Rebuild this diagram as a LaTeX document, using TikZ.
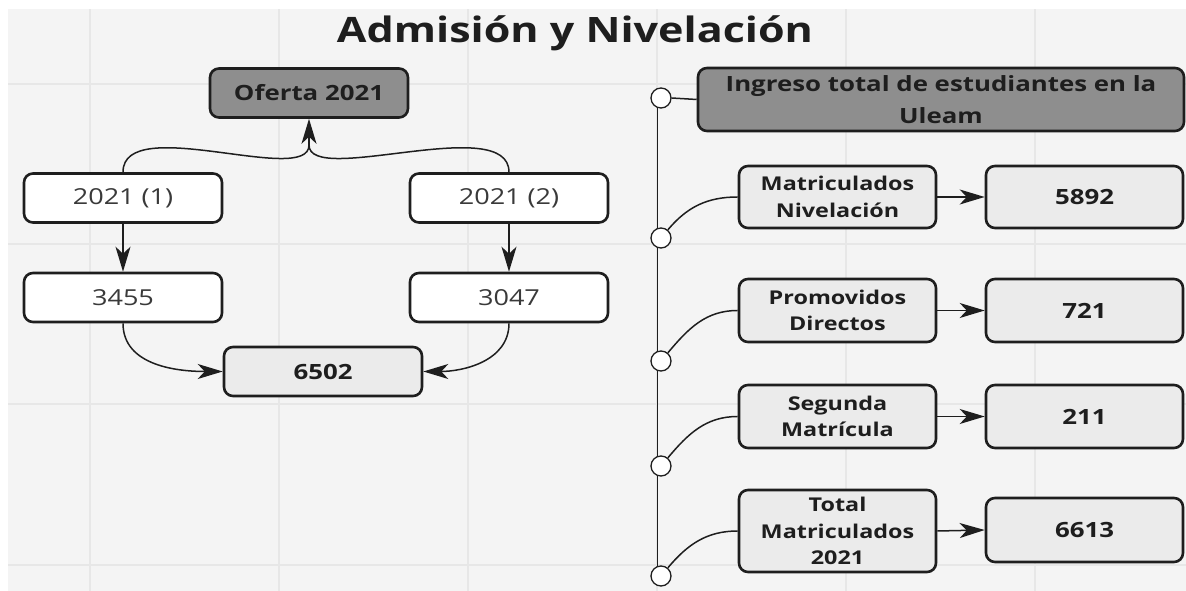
\documentclass[tikz,border=0pt]{standalone}
\usepackage{fontspec}
\setmainfont{Open Sans}[FakeStretch=1.23]
\usetikzlibrary{arrows.meta}
\definecolor{paper}{HTML}{F4F4F4}
\definecolor{gridline}{HTML}{E7E7E7}
\definecolor{darkfill}{HTML}{8E8E8E}
\definecolor{lightfill}{HTML}{EBEBEB}
\definecolor{edge}{HTML}{1E1E1E}
\definecolor{ink}{HTML}{3A3A3A}

\begin{document}
\begin{tikzpicture}[x = 1pt, y = 1pt]
\tikzstyle{Box}=[draw = edge, line width = 2.6pt, rounded corners = 9pt, inner sep = 0pt,
align = center, minimum width = 198pt, text = edge]
\tikzstyle{PlainBox}=[Box, fill = white, minimum height = 49pt, text = ink,
font = \fontsize{22}{26}\selectfont]
\tikzstyle{HeadBox}=[Box, fill = darkfill, font = \bfseries\fontsize{21}{31.5}\selectfont]
\tikzstyle{SumBox}=[Box, fill = lightfill, font = \bfseries\fontsize{21}{26}\selectfont]
\tikzstyle{ItemBox}=[Box, fill = lightfill, minimum width = 197pt,
font = \bfseries\fontsize{19}{26.5}\selectfont]
\tikzstyle{Dot}=[circle, draw = edge, fill = white, line width = 1.3pt, minimum size = 20pt,
inner sep = 0pt]
\tikzstyle{Link}=[line width = 1.5pt, draw = edge]
\tikzstyle{Arrow}=[Link, -{Stealth[length = 25pt, width = 15pt, inset = 7pt]}]
\useasboundingbox (0,0) rectangle (1186,591);
\fill[white] (0,0) rectangle (1186,591);
\fill[paper] (8,0) rectangle (1186,582);
\foreach \gx in {90,279,468,657,846,1035}
\draw[gridline, line width = 1.5pt] (\gx,0) -- (\gx,582);
\foreach \gy in {26,187,347,507}
\draw[gridline, line width = 1.5pt] (8,\gy) -- (1186,\gy);
\node[anchor = base, text = edge, font = \bfseries\fontsize{35}{40}\selectfont] (title) at (575,548) {Admisión y Nivelación};
\node[HeadBox, minimum height = 49pt] (oferta) at (309,498) {Oferta 2021};
\node[PlainBox] (y1) at (123,393) {2021 (1)};
\node[PlainBox] (y2) at (509,393) {2021 (2)};
\node[PlainBox] (n3455) at (123,293.5) {3455};
\node[PlainBox] (n3047) at (509,293.5) {3047};
\node[SumBox, minimum height = 49pt] (n6502) at (323,219.5) {6502};
\coordinate (merge) at (309,446);
\draw[Link] (y1.north) .. controls +(0,60) and +(0,-42) .. (merge);
\draw[Link] (y2.north) .. controls +(0,60) and +(0,-42) .. (merge);
\draw[Arrow] (merge) -- (oferta.south);
\draw[Arrow] (y1) -- (n3455);
\draw[Arrow] (y2) -- (n3047);
\draw[Arrow] (n3455.south) to[out = -90, in = 180] (n6502.west);
\draw[Arrow] (n3047.south) to[out = -90, in = 0] (n6502.east);
\node[HeadBox, minimum width = 486pt, minimum height = 63pt] (ingreso) at (941,491.5) {Ingreso total de estudiantes en la\\Uleam};
\node[ItemBox, minimum height = 62pt] (matri) at (837.5,394) {Matriculados\\Nivelación};
\node[SumBox, minimum width = 197pt, minimum height = 62pt] (v5892) at (1084.5,394) {5892};
\node[ItemBox, minimum height = 63pt] (promo) at (837.5,280.5) {Promovidos\\Directos};
\node[SumBox, minimum width = 197pt, minimum height = 63pt] (v721) at (1084.5,280.5) {721};
\node[ItemBox, minimum height = 63pt] (segunda) at (837.5,174.5) {Segunda\\Matrícula};
\node[SumBox, minimum width = 197pt, minimum height = 63pt] (v211) at (1084.5,174.5) {211};
\node[ItemBox, minimum height = 82pt] (total) at (837.5,60) {Total\\Matriculados\\2021};
\node[SumBox, minimum width = 197pt, minimum height = 64pt] (v6613) at (1084.5,61) {6613};
\node[Dot] (c1) at (661,493) {};
\node[Dot] (c2) at (661,353) {};
\node[Dot] (c3) at (661,230) {};
\node[Dot] (c4) at (661,125) {};
\node[Dot] (c5) at (661,15) {};
\draw[Link] (c1.-110) -- (c2.110);
\draw[Link] (c2.-110) -- (c3.110);
\draw[Link] (c3.-110) -- (c4.110);
\draw[Link] (c4.-110) -- (c5.110);
\draw[Link] (c1.east) -- (ingreso.west);
\draw[Link] (c2.50) to[out = 50, in = 180] (matri.west);
\draw[Link] (c3.50) to[out = 50, in = 180] (promo.west);
\draw[Link] (c4.50) to[out = 50, in = 180] (segunda.west);
\draw[Link] (c5.50) to[out = 50, in = 180] (total.west);
\draw[Arrow] (matri.east) -- (v5892.west);
\draw[Arrow] (promo.east) -- (v721.west);
\draw[Arrow] (segunda.east) -- (v211.west);
\draw[Arrow] (total.east) -- (v6613.west);
\end{tikzpicture}
\end{document}
